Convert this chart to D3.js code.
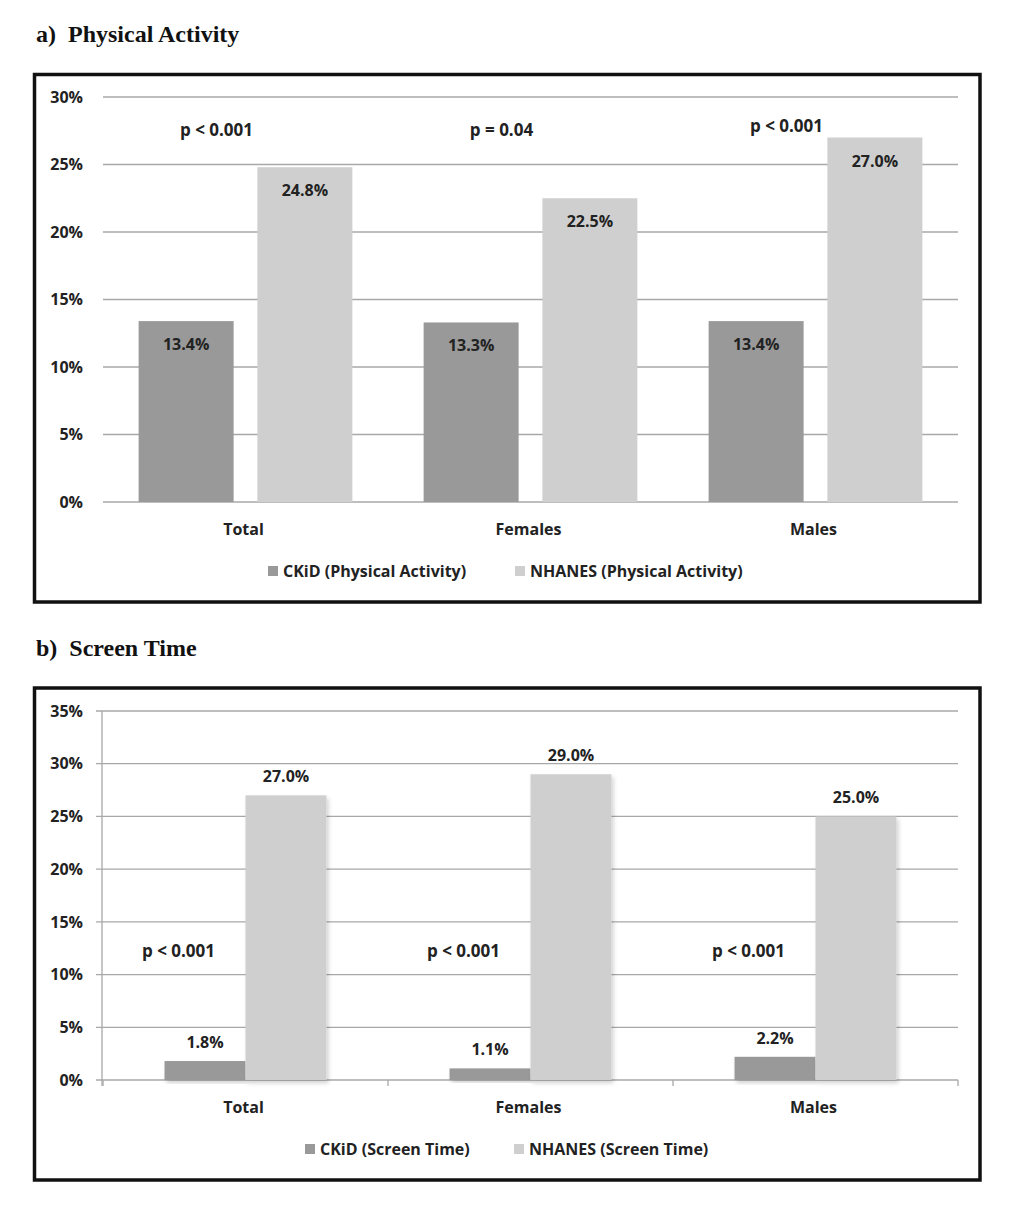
<!DOCTYPE html>
<html>
<head>
<meta charset="utf-8">
<script src="https://cdn.jsdelivr.net/npm/d3@7"></script>
<style>
  body { margin: 0; background: #fff; }
  text { font-family: "Open Sans", Lato, sans-serif; font-weight: bold; fill: #222; }
  .title { font-family: "Liberation Serif", "DejaVu Serif", serif; font-size: 24px; fill: #111; white-space: pre; }
</style>
</head>
<body>
<div class="viz"></div>
<script>
const width = 1024;
const height = 1224;

// data
const categories = ["Total", "Females", "Males"];
const series = ["ckid", "nhanes"];

const paCkid = [13.4, 13.3, 13.4];
const paNhanes = [24.8, 22.5, 27.0];
const paPvalues = ["p < 0.001", "p = 0.04", "p < 0.001"];
const paTicks = [0, 5, 10, 15, 20, 25, 30];
const paLegend = ["CKiD (Physical Activity)", "NHANES (Physical Activity)"];

const stCkid = [1.8, 1.1, 2.2];
const stNhanes = [27.0, 29.0, 25.0];
const stPvalues = ["p < 0.001", "p < 0.001", "p < 0.001"];
const stTicks = [0, 5, 10, 15, 20, 25, 30, 35];
const stLegend = ["CKiD (Screen Time)", "NHANES (Screen Time)"];

const colors = { ckid: "#999999", nhanes: "#cfcfcf" };

const svg = d3.select(".viz")
    .append("svg")
    .attr("width", width)
    .attr("height", height);

svg.append("rect").attr("width", width).attr("height", height).attr("fill", "#fff");

const defs = svg.append("defs");
defs.append("filter")
    .attr("id", "shadow")
    .attr("x", "-10%").attr("y", "-10%").attr("width", "130%").attr("height", "130%")
    .append("feDropShadow")
    .attr("dx", 2).attr("dy", 3).attr("stdDeviation", 2)
    .attr("flood-color", "#000").attr("flood-opacity", 0.18);

function drawPanel(opt) {
    const g = svg.append("g");

    g.append("text")
        .attr("class", "title")
        .attr("x", 36)
        .attr("y", opt.titleY)
        .text(opt.title);

    g.append("rect")
        .attr("x", 34.5)
        .attr("y", opt.box[0])
        .attr("width", 945.5)
        .attr("height", opt.box[1] - opt.box[0])
        .attr("fill", "none")
        .attr("stroke", "#111")
        .attr("stroke-width", 3.5);

    const x = d3.scaleBand().domain(categories).range([103, 958]);
    const xs = d3.scaleBand().domain(series).range([0, x.bandwidth()])
        .paddingInner(opt.inner).paddingOuter(opt.outer);
    const y = d3.scaleLinear().domain([0, d3.max(opt.ticks)]).range(opt.yRange);

    // gridlines
    g.selectAll(".grid")
        .data(opt.ticks)
        .enter()
        .append("line")
        .attr("x1", opt.axes ? 96 : 103)
        .attr("x2", 958)
        .attr("y1", d => y(d))
        .attr("y2", d => y(d))
        .attr("stroke", "#a8a8a8")
        .attr("stroke-width", 1.3);

    g.selectAll(".ylab")
        .data(opt.ticks)
        .enter()
        .append("text")
        .attr("x", 83)
        .attr("y", d => y(d))
        .attr("dy", "0.36em")
        .attr("text-anchor", "end")
        .style("font-size", "16px")
        .text(d => d + "%");

    if (opt.axes) {
        g.append("line")
            .attr("x1", 102).attr("x2", 102)
            .attr("y1", y(d3.max(opt.ticks))).attr("y2", y(0) + 6)
            .attr("stroke", "#a8a8a8").attr("stroke-width", 1.3);
        g.selectAll(".xtick")
            .data(categories.concat(["end"]))
            .enter()
            .append("line")
            .attr("x1", (d, i) => 103 + i * x.step())
            .attr("x2", (d, i) => 103 + i * x.step())
            .attr("y1", y(0))
            .attr("y2", y(0) + 6)
            .attr("stroke", "#a8a8a8").attr("stroke-width", 1.3);
    }

    const rows = categories.map((c, i) => ({
        cat: c,
        values: [
            { key: "ckid", value: opt.ckid[i] },
            { key: "nhanes", value: opt.nhanes[i] }
        ],
        p: opt.p[i],
        nhanes: opt.nhanes[i]
    }));

    const groups = g.selectAll(".grp")
        .data(rows)
        .enter()
        .append("g")
        .attr("transform", d => `translate(${x(d.cat)},0)`);

    groups.selectAll("rect")
        .data(d => d.values)
        .enter()
        .append("rect")
        .attr("x", d => xs(d.key))
        .attr("y", d => y(d.value))
        .attr("width", xs.bandwidth())
        .attr("height", d => y(0) - y(d.value))
        .attr("fill", d => colors[d.key])
        .attr("filter", opt.axes ? "url(#shadow)" : null);

    groups.selectAll(".vlab")
        .data(d => d.values)
        .enter()
        .append("text")
        .attr("x", d => xs(d.key) + xs.bandwidth() / 2)
        .attr("y", d => y(d.value) + opt.labelOffset)
        .attr("text-anchor", "middle")
        .style("font-size", "16px")
        .text(d => d.value.toFixed(1) + "%");

    // p-values: above the NHANES bar when it is tall, else at a fixed level
    groups.append("text")
        .attr("x", x.bandwidth() / 2 + opt.pShift)
        .attr("y", d => opt.pGap == null ? y(opt.pLevel) : Math.min(y(opt.pLevel), y(d.nhanes) - opt.pGap))
        .attr("dy", "0.36em")
        .attr("text-anchor", "middle")
        .style("font-size", "17px")
        .text(d => d.p);

    // category labels
    g.selectAll(".xlab")
        .data(categories)
        .enter()
        .append("text")
        .attr("x", d => x(d) + x.bandwidth() / 2 - 2)
        .attr("y", y(0) + 27)
        .attr("dy", "0.36em")
        .attr("text-anchor", "middle")
        .style("font-size", "16px")
        .text(d => d);

    // legend
    const leg = g.selectAll(".leg")
        .data(series)
        .enter()
        .append("g")
        .attr("transform", (d, i) => `translate(${opt.legendX[i]},${opt.legendY})`);
    leg.append("rect")
        .attr("x", 0).attr("y", -5)
        .attr("width", 10).attr("height", 10)
        .attr("fill", d => colors[d]);
    leg.append("text")
        .attr("x", 15)
        .attr("y", 0)
        .attr("dy", "0.36em")
        .style("font-size", "16px")
        .text((d, i) => opt.legend[i]);
}

drawPanel({
    title: "a)  Physical Activity",
    titleY: 42,
    box: [74.5, 602],
    yRange: [502, 97],
    ticks: paTicks,
    ckid: paCkid,
    nhanes: paNhanes,
    p: paPvalues,
    legend: paLegend,
    inner: 0.2,
    outer: 0.3,
    labelOffset: 29,
    pShift: -29,
    pLevel: 27.6,
    pGap: 12,
    legendX: [268, 515],
    legendY: 571,
    axes: false
});

drawPanel({
    title: "b)  Screen Time",
    titleY: 656,
    box: [688, 1180],
    yRange: [1080, 711],
    ticks: stTicks,
    ckid: stCkid,
    nhanes: stNhanes,
    p: stPvalues,
    legend: stLegend,
    inner: 0,
    outer: 0.76,
    labelOffset: -13,
    pShift: -67,
    pLevel: 12.2,
    pGap: null,
    legendX: [305, 514],
    legendY: 1149,
    axes: true
});
</script>
</body>
</html>
